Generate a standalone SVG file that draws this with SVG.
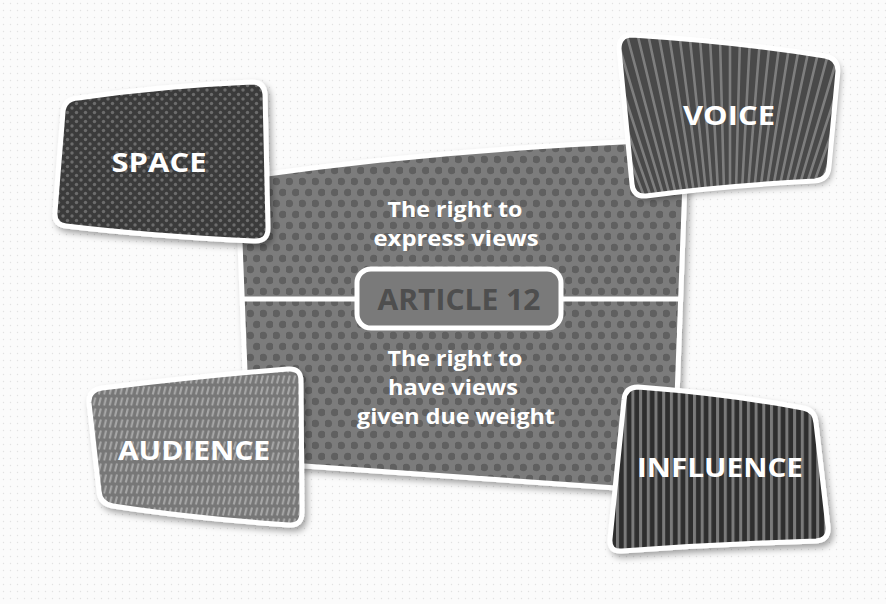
<svg xmlns="http://www.w3.org/2000/svg" width="886" height="604" viewBox="0 0 886 604">
<style>
.lbl{font-family:"Open Sans","Liberation Sans",sans-serif;font-weight:700;fill:#ffffff;text-anchor:middle}
.box{stroke:#ffffff;stroke-width:5;stroke-linejoin:round}
.big{font-size:26px}
.mid{font-size:20.5px}
</style>
<defs>
<pattern id="bg" width="7" height="7" patternUnits="userSpaceOnUse"><rect width="7" height="7" fill="#fbfbfb"/><circle cx="3.5" cy="3.5" r="0.7" fill="#e2e2e2"/></pattern>
<pattern id="hex" width="13" height="22" patternUnits="userSpaceOnUse"><rect width="13" height="22" fill="#7c7c7c"/><circle cx="3.25" cy="5.5" r="3.8" fill="#606060"/><circle cx="9.75" cy="16.5" r="3.8" fill="#606060"/></pattern>
<pattern id="dots" width="9" height="9" patternUnits="userSpaceOnUse"><rect width="9" height="9" fill="#3b3b3b"/><circle cx="0" cy="0" r="1.7" fill="#6c6c6c"/><circle cx="9" cy="0" r="1.7" fill="#6c6c6c"/><circle cx="0" cy="9" r="1.7" fill="#6c6c6c"/><circle cx="9" cy="9" r="1.7" fill="#6c6c6c"/><circle cx="4.5" cy="4.5" r="1.7" fill="#6c6c6c"/></pattern>
<pattern id="dash" width="5.4" height="11" patternUnits="userSpaceOnUse"><rect width="5.4" height="11" fill="#777777"/><line x1="1.6" y1="9.5" x2="3.6" y2="1.5" stroke="#a8a8a8" stroke-width="2"/></pattern>
<pattern id="vstripe" width="7.7" height="10" patternUnits="userSpaceOnUse"><rect width="7.7" height="10" fill="#2e2e2e"/><rect x="0" y="0" width="3" height="10" fill="#7a7a7a"/></pattern>
<filter id="sh" x="-20%" y="-20%" width="140%" height="140%"><feDropShadow dx="3" dy="4" stdDeviation="3" flood-color="#000" flood-opacity="0.35"/></filter>
<clipPath id="voiceClip"><path d="M 632,35 Q 740,42 825,56 Q 838,58 838,71 L 829,167 Q 828,180 815,181 Q 720,186 646,196 Q 633,197 632,184 L 619,49 Q 619,35 632,35 Z"/></clipPath>
</defs>
<rect width="886" height="604" fill="url(#bg)"/>

<g id="article12">
<path class="box" filter="url(#sh)" fill="url(#hex)" d="M 252,176 Q 450,148 672,140 Q 686,140 686,154 L 674,478 Q 673,492 659,491 Q 450,477 262,463 Q 249,462 248,449 L 238,190 Q 238,178 252,176 Z"/>
<text class="lbl mid" x="455" y="217" textLength="135" lengthAdjust="spacingAndGlyphs">The right to</text>
<text class="lbl mid" x="456" y="246" textLength="165" lengthAdjust="spacingAndGlyphs">express views</text>
<text class="lbl mid" x="455" y="366" textLength="135" lengthAdjust="spacingAndGlyphs">The right to</text>
<text class="lbl mid" x="453" y="395" textLength="130" lengthAdjust="spacingAndGlyphs">have views</text>
<text class="lbl mid" x="456" y="424" textLength="198" lengthAdjust="spacingAndGlyphs">given due weight</text>
</g>

<g id="connectors">
<line x1="241" y1="299" x2="682" y2="299" stroke="#ffffff" stroke-width="5"/>
</g>

<g id="article-label">
<rect x="357" y="269" width="204" height="59" rx="14" fill="#7a7a7a" stroke="#ffffff" stroke-width="5"/>
<text x="459" y="310" font-family="'Open Sans','Liberation Sans',sans-serif" font-weight="700" font-size="28" fill="#4e4e4e" text-anchor="middle" textLength="163" lengthAdjust="spacingAndGlyphs">ARTICLE 12</text>
</g>

<g id="space">
<path class="box" filter="url(#sh)" fill="url(#dots)" d="M 78,98 Q 160,86 252,82 Q 264,82 265,94 L 268,228 Q 268,242 254,241 Q 150,236 66,226 Q 54,225 55,212 L 63,112 Q 64,99 78,98 Z"/>
<text class="lbl big" x="159" y="172" textLength="95" lengthAdjust="spacingAndGlyphs">SPACE</text>
</g>

<g id="voice">
<path filter="url(#sh)" fill="#494949" d="M 632,35 Q 740,42 825,56 Q 838,58 838,71 L 829,167 Q 828,180 815,181 Q 720,186 646,196 Q 633,197 632,184 L 619,49 Q 619,35 632,35 Z"/>
<path clip-path="url(#voiceClip)" stroke="#7e7e7e" stroke-width="2.6" fill="none" d="M730 420 L730 0 M730 420 L741 0.1 M730 420 L719 0.1 M730 420 L752 0.6 M730 420 L708 0.6 M730 420 L763 1.3 M730 420 L697 1.3 M730 420 L773.9 2.3 M730 420 L686.1 2.3 M730 420 L784.8 3.6 M730 420 L675.2 3.6 M730 420 L795.7 5.2 M730 420 L664.3 5.2 M730 420 L806.5 7 M730 420 L653.5 7 M730 420 L817.3 9.2 M730 420 L642.7 9.2 M730 420 L828 11.6 M730 420 L632 11.6 M730 420 L838.7 14.3 M730 420 L621.3 14.3 M730 420 L849.3 17.3 M730 420 L610.7 17.3 M730 420 L859.8 20.6 M730 420 L600.2 20.6 M730 420 L870.2 24.1 M730 420 L589.8 24.1 M730 420 L880.5 27.9 M730 420 L579.5 27.9 M730 420 L890.7 32 M730 420 L569.3 32 M730 420 L900.8 36.3 M730 420 L559.2 36.3 M730 420 L910.8 40.9 M730 420 L549.2 40.9 M730 420 L920.7 45.8 M730 420 L539.3 45.8"/>
<path class="box" fill="none" d="M 632,35 Q 740,42 825,56 Q 838,58 838,71 L 829,167 Q 828,180 815,181 Q 720,186 646,196 Q 633,197 632,184 L 619,49 Q 619,35 632,35 Z"/>
<text class="lbl big" x="729" y="125" textLength="92" lengthAdjust="spacingAndGlyphs">VOICE</text>
</g>

<g id="audience">
<path class="box" filter="url(#sh)" fill="url(#dash)" d="M 102,388 Q 200,376 288,369 Q 301,368 301,381 L 302,512 Q 302,526 289,525 Q 190,518 113,506 Q 100,504 99,491 L 89,403 Q 88,390 102,388 Z"/>
<text class="lbl big" x="194" y="460" textLength="152" lengthAdjust="spacingAndGlyphs">AUDIENCE</text>
</g>

<g id="influence">
<path class="box" filter="url(#sh)" fill="url(#vstripe)" d="M 638,387 Q 730,394 803,408 Q 815,410 816,423 L 828,527 Q 829,540 816,541 Q 720,544 622,551 Q 609,552 610,539 L 624,400 Q 625,387 638,387 Z"/>
<text class="lbl big" x="720" y="477" textLength="166" lengthAdjust="spacingAndGlyphs">INFLUENCE</text>
</g>
</svg>
